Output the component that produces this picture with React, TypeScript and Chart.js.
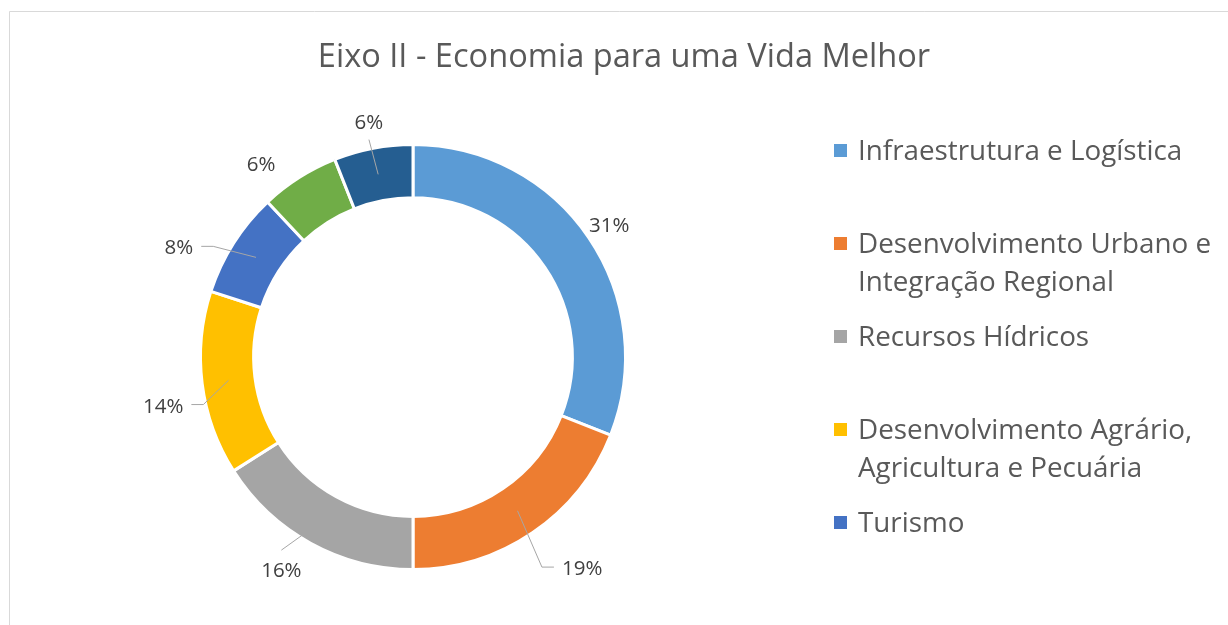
import React, { useEffect, useRef } from "react";
import { Chart, registerables } from "chart.js";

Chart.register(...registerables);

const TITLE = "Eixo II - Economia para uma Vida Melhor";

const categories = [
  "Infraestrutura e Logística",
  "Desenvolvimento Urbano e Integração Regional",
  "Recursos Hídricos",
  "Desenvolvimento Agrário, Agricultura e Pecuária",
  "Turismo",
  "Indústria, Comércio e Serviços",
  "Ciência, Tecnologia e Inovação",
];

const legendLines = [
  ["Infraestrutura e Logística"],
  ["Desenvolvimento Urbano e", "Integração Regional"],
  ["Recursos Hídricos"],
  ["Desenvolvimento Agrário,", "Agricultura e Pecuária"],
  ["Turismo"],
  ["Indústria, Comércio e", "Serviços"],
  ["Ciência, Tecnologia e", "Inovação"],
];

const shares = [31, 19, 16, 14, 8, 6, 6];

const colors = ["#5B9BD5", "#ED7D31", "#A5A5A5", "#FFC000", "#4472C4", "#70AD47", "#255E91"];

// label placement relative to each slice: angle nudge (deg) and distance beyond outer edge (px)
const labelPlacement = [
  { dAngle: 0.3, dist: 24, leader: false },
  { dAngle: -4.5, dist: 58, leader: true },
  { dAngle: 2.9, dist: 38, leader: true },
  { dAngle: -3.8, dist: 42, leader: true },
  { dAngle: -7.3, dist: 46, leader: true },
  { dAngle: -5.8, dist: 33, leader: false },
  { dAngle: 0.2, dist: 27, leader: true },
];

const FONT = "'Open Sans', 'Noto Sans', sans-serif";

const decorPlugin = {
  id: "decor",
  beforeDraw(chart: any) {
    const ctx = chart.ctx;
    ctx.save();
    ctx.fillStyle = "#ffffff";
    ctx.fillRect(0, 0, chart.width, chart.height);
    ctx.strokeStyle = "#D9D9D9";
    ctx.lineWidth = 1;
    ctx.beginPath();
    ctx.moveTo(9.5, chart.height + 5);
    ctx.lineTo(9.5, 11.5);
    ctx.lineTo(chart.width + 5, 11.5);
    ctx.stroke();
    // title
    ctx.fillStyle = "#595959";
    ctx.font = `32.6px ${FONT}`;
    ctx.textAlign = "center";
    ctx.textBaseline = "alphabetic";
    ctx.fillText(TITLE, 624, 67);
    ctx.restore();
  },
  afterDatasetsDraw(chart: any) {
    const ctx = chart.ctx;
    const meta = chart.getDatasetMeta(0);
    ctx.save();
    ctx.font = `20.5px ${FONT}`;
    meta.data.forEach((arc: any, i: number) => {
      const p = arc.getProps(["x", "y", "startAngle", "endAngle", "innerRadius", "outerRadius"], true);
      const mid = (p.startAngle + p.endAngle) / 2;
      const pl = labelPlacement[i];
      const a = mid + (pl.dAngle * Math.PI) / 180;
      const r = p.outerRadius + pl.dist;
      const lx = p.x + r * Math.cos(a);
      const ly = p.y + r * Math.sin(a);
      const total = shares.reduce((s, v) => s + v, 0);
      const text = Math.round((shares[i] / total) * 100) + "%";
      const w = ctx.measureText(text).width;
      if (pl.leader) {
        const rm = (p.innerRadius + p.outerRadius) / 2;
        const sx = p.x + rm * Math.cos(mid);
        const sy = p.y + rm * Math.sin(mid);
        ctx.strokeStyle = "#A6A6A6";
        ctx.lineWidth = 1;
        ctx.beginPath();
        ctx.moveTo(sx, sy);
        const dx = lx - sx;
        const dy = ly - sy;
        if (Math.abs(dx) > Math.abs(dy)) {
          const side = dx > 0 ? -1 : 1;
          const ex = lx + side * (w / 2 + 8);
          const elbow = ex + side * 12;
          const hy = ly - 1;
          ctx.lineTo(elbow, hy);
          ctx.lineTo(ex, hy);
        } else {
          const ey = dy > 0 ? ly - 20 : ly + 18;
          ctx.lineTo(lx, ey);
        }
        ctx.stroke();
      }
      ctx.fillStyle = "#404040";
      ctx.textAlign = "center";
      ctx.textBaseline = "alphabetic";
      ctx.fillText(text, lx, ly + 7);
    });

    // legend
    ctx.font = `27.8px ${FONT}`;
    ctx.textAlign = "left";
    ctx.textBaseline = "alphabetic";
    const slot = 93;
    const lineH = 38;
    const firstBaseline = 160;
    legendLines.forEach((lines, i) => {
      const base = firstBaseline + i * slot;
      if (base + (lines.length - 1) * lineH > chart.height - 30) return;
      ctx.fillStyle = colors[i];
      ctx.fillRect(834, Math.round(base - 9.3 - 6.5), 13, 13);
      ctx.fillStyle = "#595959";
      lines.forEach((ln, j) => ctx.fillText(ln, 858, base + j * lineH));
    });
    ctx.restore();
  },
};

export default function App() {
  const ref = useRef<HTMLCanvasElement | null>(null);
  useEffect(() => {
    if (!ref.current) return;
    const chart = new Chart(ref.current, {
      type: "doughnut",
      data: {
        labels: categories,
        datasets: [
          {
            data: shares,
            backgroundColor: colors,
            borderColor: "#ffffff",
            borderWidth: 3,
          },
        ],
      },
      options: {
        responsive: false,
        animation: false,
        cutout: "75%",
        layout: { padding: { left: 199, right: 601, top: 143, bottom: 54 } },
        plugins: {
          legend: { display: false },
          title: { display: false },
          tooltip: { enabled: false },
        },
      },
      plugins: [decorPlugin],
    });
    return () => chart.destroy();
  }, []);
  return (
    <canvas
      ref={ref}
      width={1228}
      height={625}
      style={{ position: "absolute", left: 0, top: 0, width: 1228, height: 625 }}
    />
  );
}
